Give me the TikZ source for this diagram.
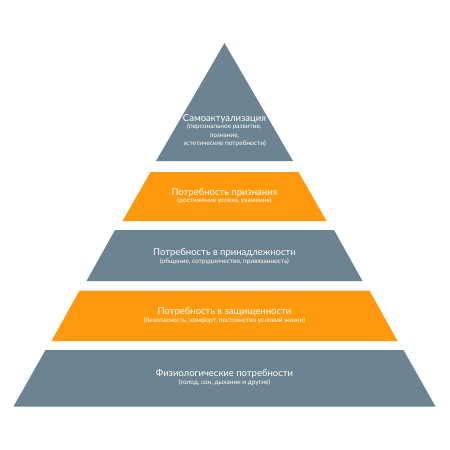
\documentclass[tikz,border=0pt]{standalone}
\usepackage{fontspec}
\setmainfont{Lato}
\definecolor{slate}{HTML}{6C8491}
\definecolor{amber}{HTML}{FF990D}
\begin{document}
\begin{tikzpicture}[x=1pt,y=-1pt,
  ttl/.style={text=white,font=\fontsize{9.5}{10}\selectfont,inner sep=0pt,anchor=base},
  sub/.style={text=white,font=\fontsize{6.5}{8.4}\selectfont,inner sep=0pt,anchor=base,align=center}]
\useasboundingbox (0,0) rectangle (450,450);
% shapes
\fill[slate] (224.5,43) -- (293,161) -- (156,161) -- cycle;
\fill[amber] (150.5,172) -- (298.5,172) -- (326.5,221) -- (122.5,221) -- cycle;
\fill[slate] (115,230) -- (334,230) -- (362.5,281) -- (86.5,281) -- cycle;
\fill[amber] (79.5,290.5) -- (369.5,290.5) -- (397.5,341) -- (51.5,341) -- cycle;
\fill[slate] (45.5,350) -- (403.5,350) -- (435.5,406.5) -- (13.5,406.5) -- cycle;
% texts
\node[ttl] (t1) at (224.5,121.5) {Самоактуализация};
\node[sub,anchor=north] (s1) at (224.5,123.5) {(персональное развитие,\\познание,\\эстетические потребности)};
\node[ttl] (t2) at (224.5,195) {Потребность признания};
\node[sub] (s2) at (224.5,202.5) {(достижение успеха, уважение)};
\node[ttl] (t3) at (224.5,255) {Потребность в принадлежности};
\node[sub] (s3) at (224.5,263) {(общение, сотрудничество, привязанность)};
\node[ttl] (t4) at (224.5,314.5) {Потребность в защищенности};
\node[sub] (s4) at (224.5,322.5) {(безопасность, комфорт, постоянство условий жизни)};
\node[ttl] (t5) at (224.5,376) {Физиологические потребности};
\node[sub] (s5) at (224.5,384) {(голод, сон, дыхание и другие)};
\end{tikzpicture}
\end{document}
